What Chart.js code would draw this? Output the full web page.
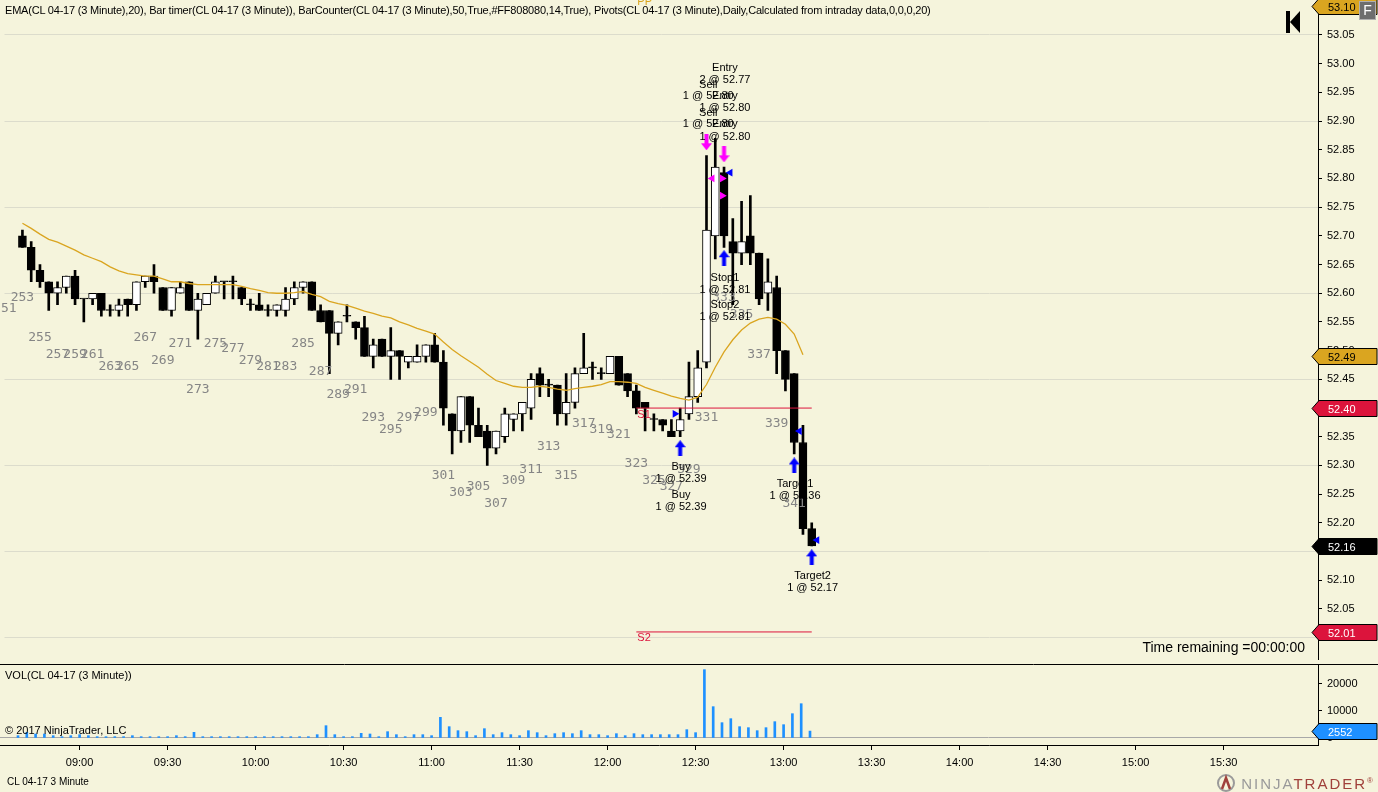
<!DOCTYPE html>
<html>
<head>
<meta charset="utf-8">
<script src="https://cdn.jsdelivr.net/npm/chart.js@4.4.1/dist/chart.umd.min.js"></script>
<style>
  body { margin: 0; background: #f5f4dc; width: 1378px; height: 792px; overflow: hidden; position: relative;
         font-family: "Liberation Sans", Arial, sans-serif; }
  canvas { position: absolute; left: 0; }
  #pricePane { top: 0; }
  #volPane { top: 664px; }
  .txt { position: absolute; white-space: nowrap; color: #000; }
</style>
</head>
<body>
<canvas id="pricePane" width="1378" height="664"></canvas>
<canvas id="volPane" width="1378" height="128"></canvas>

<div class="txt" style="left:5px;top:4px;font-size:11px;letter-spacing:-0.2px">EMA(CL 04-17 (3 Minute),20), Bar timer(CL 04-17 (3 Minute)), BarCounter(CL 04-17 (3 Minute),50,True,#FF808080,14,True), Pivots(CL 04-17 (3 Minute),Daily,Calculated from intraday data,0,0,0,20)</div>
<div class="txt" style="right:73px;top:639px;font-size:14px">Time remaining =00:00:00</div>
<div class="txt" style="left:5px;top:669px;font-size:11px">VOL(CL 04-17 (3 Minute))</div>
<div class="txt" style="left:5px;top:724px;font-size:11px">© 2017 NinjaTrader, LLC</div>
<div class="txt" style="left:7px;top:776px;font-size:10px">CL 04-17 3 Minute</div>
<div class="txt" style="right:3px;top:774px;font-size:15px;letter-spacing:2px">
  <svg width="22" height="18" style="vertical-align:-3px;margin-right:3px"><circle cx="10" cy="9" r="8" fill="none" stroke="#9a9a9a" stroke-width="2"/><path d="M6 15 L10 4 L14 15" fill="none" stroke="#a0413b" stroke-width="2.5"/></svg><span style="color:#9a9a9a">NINJA</span><span style="color:#a0413b">TRADER</span><span style="color:#a0413b;font-size:8px;vertical-align:6px">®</span>
</div>

<script>
// bar counter numbering: first drawn bar is 253, one bar every 3 minutes
const firstBar = 253;

const opens = [
  52.70, 52.68, 52.64, 52.62, 52.60, 52.61, 52.63, 52.59, 52.59, 52.60,
  52.57, 52.57, 52.59, 52.58, 52.62, 52.63, 52.61, 52.57, 52.60, 52.62,
  52.57, 52.58, 52.60, 52.62, 52.62, 52.61, 52.58, 52.58, 52.57, 52.57,
  52.57, 52.59, 52.61, 52.62, 52.57, 52.57, 52.53, 52.56, 52.55, 52.54,
  52.49, 52.52, 52.49, 52.50, 52.48, 52.48, 52.49, 52.51, 52.48, 52.39,
  52.36, 52.42, 52.37, 52.36, 52.33, 52.35, 52.38, 52.39, 52.40, 52.46,
  52.44, 52.44, 52.39, 52.41, 52.46, 52.47, 52.46, 52.46, 52.49, 52.46,
  52.43, 52.41, 52.38, 52.38, 52.36, 52.36, 52.39, 52.42, 52.48, 52.70,
  52.81, 52.69, 52.67, 52.70, 52.67, 52.60, 52.61, 52.50, 52.46, 52.34,
  52.19
];
const highs = [
  52.71, 52.69, 52.65, 52.62, 52.62, 52.63, 52.64, 52.59, 52.60, 52.60,
  52.58, 52.59, 52.59, 52.62, 52.63, 52.65, 52.61, 52.61, 52.62, 52.62,
  52.60, 52.60, 52.63, 52.62, 52.63, 52.61, 52.59, 52.60, 52.58, 52.58,
  52.61, 52.62, 52.62, 52.62, 52.58, 52.57, 52.55, 52.58, 52.55, 52.56,
  52.52, 52.52, 52.54, 52.50, 52.49, 52.51, 52.51, 52.53, 52.50, 52.39,
  52.42, 52.42, 52.40, 52.37, 52.36, 52.40, 52.39, 52.41, 52.46, 52.47,
  52.45, 52.44, 52.46, 52.47, 52.53, 52.48, 52.47, 52.49, 52.49, 52.46,
  52.44, 52.41, 52.39, 52.38, 52.38, 52.40, 52.48, 52.50, 52.84, 52.87,
  52.82, 52.73, 52.76, 52.77, 52.67, 52.66, 52.63, 52.50, 52.46, 52.37,
  52.20
];
const lows = [
  52.68, 52.62, 52.61, 52.57, 52.58, 52.60, 52.58, 52.55, 52.58, 52.56,
  52.56, 52.56, 52.56, 52.57, 52.61, 52.60, 52.57, 52.56, 52.60, 52.57,
  52.52, 52.58, 52.60, 52.59, 52.59, 52.58, 52.57, 52.57, 52.56, 52.56,
  52.56, 52.58, 52.60, 52.57, 52.55, 52.46, 52.51, 52.55, 52.52, 52.49,
  52.47, 52.49, 52.45, 52.45, 52.47, 52.48, 52.48, 52.48, 52.37, 52.32,
  52.34, 52.34, 52.35, 52.30, 52.32, 52.34, 52.36, 52.36, 52.38, 52.42,
  52.42, 52.37, 52.37, 52.40, 52.46, 52.45, 52.45, 52.46, 52.44, 52.42,
  52.39, 52.36, 52.36, 52.36, 52.35, 52.35, 52.38, 52.41, 52.47, 52.66,
  52.68, 52.58, 52.65, 52.65, 52.58, 52.57, 52.46, 52.43, 52.32, 52.18,
  52.16
];
const closes = [
  52.68, 52.64, 52.62, 52.60, 52.61, 52.63, 52.59, 52.59, 52.60, 52.57,
  52.57, 52.58, 52.58, 52.62, 52.63, 52.62, 52.57, 52.61, 52.61, 52.57,
  52.59, 52.60, 52.62, 52.62, 52.62, 52.59, 52.58, 52.57, 52.57, 52.58,
  52.59, 52.61, 52.62, 52.57, 52.55, 52.53, 52.55, 52.56, 52.54, 52.49,
  52.51, 52.49, 52.50, 52.49, 52.49, 52.49, 52.51, 52.48, 52.40, 52.36,
  52.42, 52.37, 52.35, 52.33, 52.36, 52.39, 52.39, 52.41, 52.45, 52.44,
  52.44, 52.39, 52.41, 52.46, 52.47, 52.47, 52.46, 52.49, 52.44, 52.43,
  52.40, 52.40, 52.38, 52.37, 52.35, 52.38, 52.42, 52.47, 52.71, 52.82,
  52.70, 52.67, 52.69, 52.67, 52.59, 52.62, 52.50, 52.45, 52.34, 52.19,
  52.16
];
const emaVals = [
  52.722, 52.713, 52.703, 52.694, 52.689, 52.682, 52.675, 52.667, 52.661, 52.655,
  52.646, 52.639, 52.634, 52.632, 52.630, 52.630, 52.625, 52.620, 52.620, 52.617,
  52.615, 52.615, 52.615, 52.615, 52.615, 52.612, 52.608, 52.605, 52.601, 52.600,
  52.600, 52.601, 52.603, 52.598, 52.594, 52.586, 52.582, 52.579, 52.574, 52.569,
  52.565, 52.560, 52.557, 52.550, 52.545, 52.539, 52.534, 52.529, 52.515, 52.502,
  52.491, 52.481, 52.471, 52.459, 52.448, 52.443, 52.438, 52.436, 52.436, 52.438,
  52.436, 52.433, 52.431, 52.434, 52.436, 52.438, 52.441, 52.446, 52.446, 52.445,
  52.443, 52.436, 52.431, 52.426, 52.421, 52.417, 52.414, 52.419, 52.441, 52.471,
  52.498, 52.519, 52.536, 52.548, 52.555, 52.558, 52.555, 52.546, 52.529, 52.493,
  null
];
const volumes = [
  860, 2100, 1480, 1480, 860, 490, 860, 1230, 860, 490,
  490, 490, 490, 860, 490, 490, 490, 490, 860, 490,
  2100, 490, 490, 490, 490, 490, 490, 490, 490, 490,
  490, 490, 490, 490, 1230, 4560, 1230, 490, 490, 1730,
  1480, 490, 2340, 1230, 490, 1230, 1230, 860, 7650, 4190,
  2710, 2340, 860, 3450, 1230, 1970, 1230, 860, 2710, 1970,
  860, 1600, 1970, 1600, 2710, 1230, 1230, 860, 1600, 860,
  1600, 1230, 1230, 1230, 1230, 1230, 3080, 1970, 25300, 11600,
  5670, 7150, 4190, 3820, 2710, 3820, 6040, 4930, 9000, 12700,
  2552
];

// bar counter labels (every second bar), hung below each bar's low
const counterBars = [251, 253, 255, 257, 259, 261, 263, 265, 267, 269, 271, 273, 275, 277, 279,
  281, 283, 285, 287, 289, 291, 293, 295, 297, 299, 301, 303, 305, 307, 309, 311, 313, 315,
  317, 319, 321, 323, 325, 327, 329, 331, 333, 335, 337, 339, 341];
const bar251Low = 52.66;

// axis ticks
const priceTicks = [52.00, 52.05, 52.10, 52.15, 52.20, 52.25, 52.30, 52.35, 52.40, 52.45, 52.50,
  52.55, 52.60, 52.65, 52.70, 52.75, 52.80, 52.85, 52.90, 52.95, 53.00, 53.05];
const priceGrid = [52.00, 52.15, 52.30, 52.45, 52.60, 52.75, 52.90, 53.05];
const volTicks = [0, 10000, 20000];
const timeTickBars = [260, 270, 280, 290, 300, 310, 320, 330, 340, 350, 360, 370, 380, 390];
const timeLabels = ['09:00', '09:30', '10:00', '10:30', '11:00', '11:30', '12:00', '12:30',
  '13:00', '13:30', '14:00', '14:30', '15:00', '15:30'];

// daily pivots
const pivotNames = ['S1', 'S2'];
const pivotLevels = [52.40, 52.01];
const pivotFrom = 323, pivotTo = 343;

// executions
const sellArrowBars = [331, 333], sellArrowPrices = [52.863, 52.842];
const coverArrowBars = [333, 328, 341, 343], coverArrowPrices = [52.661, 52.330, 52.300, 52.140];
const magentaLeftBars = [331.65], magentaLeftPrices = [52.80];
const magentaRightBars = [332.8, 332.8], magentaRightPrices = [52.80, 52.77];
const blueLeftBars = [333.7, 341.6, 343.6], blueLeftPrices = [52.81, 52.36, 52.17];
const blueRightBars = [327.4], blueRightPrices = [52.39];

const tradeTexts = ['Entry', '2 @ 52.77', 'Sell', '1 @ 52.80', 'Entry', '1 @ 52.80', 'Sell', '1 @ 52.80',
  'Entry', '1 @ 52.80', 'Stop1', '1 @ 52.81', 'Stop2', '1 @ 52.81', 'Buy', '1 @ 52.39', 'Buy',
  '1 @ 52.39', 'Target1', '1 @ 52.36', 'Target2', '1 @ 52.17'];
const tradeTextBars = [333.1, 333.1, 331.2, 331.2, 333.1, 333.1, 331.2, 331.2, 333.1, 333.1,
  333.1, 333.1, 333.1, 333.1, 328.1, 328.1, 328.1, 328.1, 341.1, 341.1, 343.1, 343.1];
const tradeTextPrices = [52.992, 52.971, 52.962, 52.943, 52.943, 52.923, 52.914, 52.895, 52.895, 52.873,
  52.627, 52.606, 52.579, 52.558, 52.297, 52.276, 52.249, 52.228, 52.268, 52.247, 52.108, 52.087];

// right-axis value tags
const tagValues = [53.10, 52.49, 52.40, 52.16, 52.01];
const tagFills = ['#daa520', '#daa520', '#dc143c', '#000000', '#dc143c'];
const tagInks = ['#000', '#000', '#fff', '#fff', '#fff'];
const lastVolume = 2552;

const xMin = 250.955, xMax = 400.727;
const bars = opens.map((v, i) => firstBar + i);

Chart.defaults.font.family = '"Liberation Sans", Arial, sans-serif';
Chart.defaults.font.size = 11;
Chart.defaults.color = '#000';

function arrowImage(color, up) {
  const c = document.createElement('canvas');
  c.width = 11; c.height = 16;
  const g = c.getContext('2d');
  g.fillStyle = color;
  g.beginPath();
  [[5.5, 0], [11, 7], [7.5, 7], [7.5, 16], [3.5, 16], [3.5, 7], [0, 7]].forEach((p, k) => {
    const yy = up ? p[1] : 16 - p[1];
    k ? g.lineTo(p[0], yy) : g.moveTo(p[0], yy);
  });
  g.closePath();
  g.fill();
  return c;
}

function tag(ctx, yPix, text, fill, ink) {
  const left = 1312, right = 1377;
  ctx.beginPath();
  ctx.moveTo(left, yPix);
  ctx.lineTo(left + 7, yPix - 8);
  ctx.lineTo(right, yPix - 8);
  ctx.lineTo(right, yPix + 8);
  ctx.lineTo(left + 7, yPix + 8);
  ctx.closePath();
  ctx.fillStyle = fill;
  ctx.fill();
  ctx.strokeStyle = '#000';
  ctx.lineWidth = 1;
  ctx.stroke();
  ctx.fillStyle = ink;
  ctx.font = '11px "Liberation Sans", Arial';
  ctx.textAlign = 'left';
  ctx.textBaseline = 'middle';
  ctx.fillText(text, left + 16, yPix + 1);
}

function pts(xs, ys) { return xs.map((x, i) => ({x: x, y: ys[i]})); }

function markerSet(data, style, color, rotation) {
  return {
    type: 'line', showLine: false, data: data, order: 0,
    pointStyle: style, pointRadius: 4.5, pointRotation: rotation || 0,
    pointBackgroundColor: color, pointBorderColor: color, pointBorderWidth: 0
  };
}

const priceDecor = {
  id: 'priceDecor',
  afterDatasetsDraw(chart) {
    const ctx = chart.ctx, x = chart.scales.x, y = chart.scales.y;
    ctx.save();
    // pivot names under their lines
    ctx.font = '11px "Liberation Sans", Arial';
    ctx.textAlign = 'left';
    ctx.textBaseline = 'top';
    ctx.fillStyle = '#dc143c';
    pivotNames.forEach((n, i) => ctx.fillText(n, x.getPixelForValue(pivotFrom) + 1, y.getPixelForValue(pivotLevels[i]) + 1));
    ctx.fillStyle = '#daa520';
    ctx.fillText('PP', x.getPixelForValue(pivotFrom) + 1, -4);

    // bar counter
    ctx.font = '13px "DejaVu Sans Mono", monospace';
    ctx.fillStyle = '#858585';
    ctx.textAlign = 'center';
    ctx.textBaseline = 'middle';
    counterBars.forEach(n => {
      const low = n < firstBar ? bar251Low : lows[n - firstBar];
      ctx.fillText(String(n), x.getPixelForValue(n), y.getPixelForValue(low) + 50);
    });

    // execution texts
    ctx.font = '11px "Liberation Sans", Arial';
    ctx.fillStyle = '#000';
    tradeTexts.forEach((t, i) => ctx.fillText(t, x.getPixelForValue(tradeTextBars[i]), y.getPixelForValue(tradeTextPrices[i])));
    ctx.restore();
  },
  afterDraw(chart) {
    const ctx = chart.ctx, y = chart.scales.y;
    ctx.save();
    tagValues.forEach((v, i) => tag(ctx, Math.round(y.getPixelForValue(v)) + 0.5, v.toFixed(2), tagFills[i], tagInks[i]));
    // "F" button
    ctx.fillStyle = '#6e6e6e';
    ctx.fillRect(1359.5, 1.5, 16, 18);
    ctx.strokeStyle = '#b0b0b0';
    ctx.strokeRect(1359.5, 1.5, 16, 18);
    ctx.fillStyle = '#fff';
    ctx.font = '14px "Liberation Sans", Arial';
    ctx.textAlign = 'center';
    ctx.textBaseline = 'middle';
    ctx.fillText('F', 1367.5, 11);
    // jump-to-start icon
    ctx.fillStyle = '#000';
    ctx.fillRect(1286, 11, 4, 22);
    ctx.beginPath();
    ctx.moveTo(1300, 11);
    ctx.lineTo(1290, 22);
    ctx.lineTo(1300, 33);
    ctx.closePath();
    ctx.fill();
    ctx.restore();
  }
};

const volDecor = {
  id: 'volDecor',
  afterDraw(chart) {
    const ctx = chart.ctx, y = chart.scales.y;
    ctx.save();
    ctx.strokeStyle = '#000';
    ctx.lineWidth = 1;
    ctx.beginPath();
    ctx.moveTo(0, 0.5);
    ctx.lineTo(1378, 0.5);
    ctx.stroke();
    tag(ctx, Math.round(y.getPixelForValue(lastVolume)) + 0.5, String(lastVolume), '#1e90ff', '#fff');
    ctx.restore();
  }
};

new Chart(document.getElementById('pricePane'), {
  type: 'bar',
  data: {
    datasets: [
      {
        type: 'bar', label: 'wick', data: pts(bars, lows.map((l, i) => [l, highs[i]])),
        backgroundColor: '#000', barThickness: 2, grouped: false, order: 3
      },
      {
        type: 'bar', label: 'body', data: pts(bars, opens.map((o, i) => [o, closes[i]])),
        backgroundColor: bars.map((b, i) => closes[i] > opens[i] ? '#ffffff' : '#000000'),
        borderColor: '#000', borderWidth: 1, borderSkipped: false,
        barThickness: 8, minBarLength: 1, grouped: false, order: 2
      },
      {
        type: 'line', label: 'EMA', data: pts(bars, emaVals),
        borderColor: '#daa520', borderWidth: 1.3, pointRadius: 0, order: 1
      },
      ...pivotLevels.map(p => ({
        type: 'line', data: [{x: pivotFrom, y: p}, {x: pivotTo, y: p}],
        borderColor: '#dc143c', borderWidth: 1, pointRadius: 0, order: 0
      })),
      markerSet(pts(sellArrowBars, sellArrowPrices), arrowImage('#ff00ff', false), '#ff00ff'),
      markerSet(pts(coverArrowBars, coverArrowPrices), arrowImage('#0000ff', true), '#0000ff'),
      markerSet(pts(magentaLeftBars, magentaLeftPrices), 'triangle', '#ff00ff', 270),
      markerSet(pts(magentaRightBars, magentaRightPrices), 'triangle', '#ff00ff', 90),
      markerSet(pts(blueLeftBars, blueLeftPrices), 'triangle', '#0000ff', 270),
      markerSet(pts(blueRightBars, blueRightPrices), 'triangle', '#0000ff', 90)
    ]
  },
  options: {
    responsive: false, animation: false, events: [],
    layout: { padding: 0 },
    plugins: { legend: { display: false }, tooltip: { enabled: false } },
    scales: {
      x: {
        type: 'linear', min: xMin, max: xMax, offset: false, display: false,
        grid: { offset: false }
      },
      y: {
        position: 'right', min: 51.962, max: 53.103,
        afterBuildTicks: s => { s.ticks = priceTicks.map(v => ({ value: v })); },
        afterFit: s => { s.width = 60; s.paddingTop = 0; s.paddingBottom = 0; },
        ticks: { padding: 5, autoSkip: false, callback: v => v.toFixed(2) },
        grid: {
          tickLength: 4, tickColor: '#000',
          color: c => priceGrid.some(g => Math.abs(g - c.tick.value) < 0.001) ? '#dcdccc' : 'rgba(0,0,0,0)'
        },
        border: { color: '#000' }
      }
    }
  },
  plugins: [priceDecor]
});

new Chart(document.getElementById('volPane'), {
  type: 'bar',
  data: {
    datasets: [{
      label: 'VOL', data: pts(bars, volumes),
      backgroundColor: '#1e90ff', barThickness: 2, grouped: false
    }]
  },
  options: {
    responsive: false, animation: false, events: [],
    layout: { padding: 0 },
    plugins: { legend: { display: false }, tooltip: { enabled: false } },
    scales: {
      x: {
        type: 'linear', min: xMin, max: xMax, offset: false, position: 'bottom',
        afterBuildTicks: s => { s.ticks = timeTickBars.map(v => ({ value: v })); },
        afterFit: s => { s.height = 47; s.paddingLeft = 0; s.paddingRight = 0; },
        ticks: { padding: 6, maxRotation: 0, autoSkip: false, callback: (v, i) => timeLabels[i] },
        grid: { drawOnChartArea: false, offset: false, tickLength: 5, tickColor: '#000' },
        border: { color: '#000' }
      },
      y: {
        position: 'right', min: -2600, max: 27400,
        afterBuildTicks: s => { s.ticks = volTicks.map(v => ({ value: v })); },
        afterFit: s => { s.width = 60; s.paddingTop = 0; s.paddingBottom = 0; },
        ticks: { padding: 5, autoSkip: false, callback: v => String(v) },
        grid: {
          tickLength: 4, tickColor: '#000',
          color: c => c.tick.value === 0 ? '#a8a8a8' : 'rgba(0,0,0,0)'
        },
        border: { color: '#000' }
      }
    }
  },
  plugins: [volDecor]
});
</script>
</body>
</html>
